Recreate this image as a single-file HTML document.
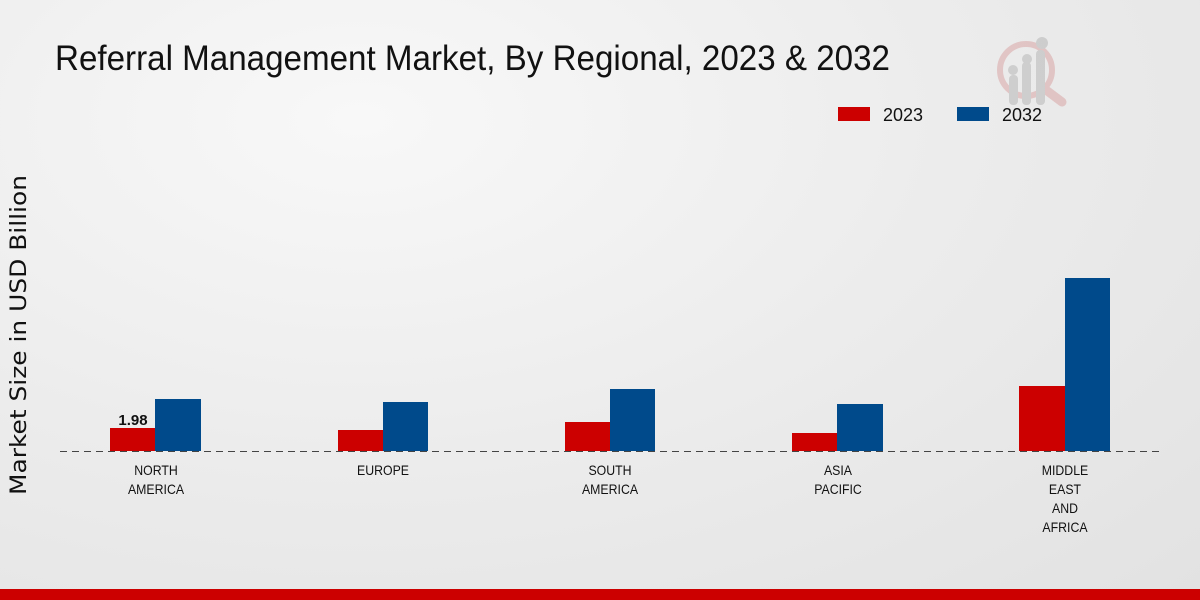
<!DOCTYPE html>
<html><head><meta charset="utf-8"><style>
body{margin:0;width:1200px;height:600px;overflow:hidden;background:radial-gradient(ellipse at 30% 20%,#f8f8f8 0%,#ececec 50%,#e2e2e2 100%);font-family:"Liberation Sans",sans-serif;}
svg{position:absolute;left:0;top:0}
</style></head><body>
<svg width="1200" height="600" xmlns="http://www.w3.org/2000/svg">
<text x="55" y="70" font-family="Liberation Sans, sans-serif" font-size="35" fill="#111" textLength="835" lengthAdjust="spacingAndGlyphs">Referral Management Market, By Regional, 2023 &amp; 2032</text>
<g opacity="0.35">
<circle cx="1026" cy="70" r="26" fill="none" stroke="#d08080" stroke-width="6"/>
<line x1="1046" y1="90" x2="1062" y2="102" stroke="#d08080" stroke-width="9" stroke-linecap="round"/>
<rect x="1009" y="75" width="9" height="30" rx="4" fill="#999"/>
<rect x="1022" y="62" width="9" height="43" rx="4" fill="#999"/>
<rect x="1036" y="50" width="9" height="55" rx="4" fill="#999"/>
<circle cx="1013" cy="70" r="5" fill="#999"/><circle cx="1027" cy="59" r="5" fill="#999"/><circle cx="1042" cy="43" r="6" fill="#999"/>
</g>
<rect x="838" y="107" width="32" height="14" fill="#cc0000"/>
<text x="883" y="121" font-size="18" fill="#111">2023</text>
<rect x="957" y="107" width="32" height="14" fill="#004a8b"/>
<text x="1002" y="121" font-size="18" fill="#111">2032</text>
<text transform="translate(26,335) rotate(-90)" text-anchor="middle" font-family="DejaVu Sans, sans-serif" font-size="22" fill="#111" textLength="320" lengthAdjust="spacingAndGlyphs">Market Size in USD Billion</text>
<g fill="#cc0000">
<rect x="110" y="428" width="45" height="23"/><rect x="338" y="430" width="45" height="21"/><rect x="565" y="422" width="45" height="29"/><rect x="792" y="433" width="45" height="18"/><rect x="1019" y="386" width="46" height="65"/>
</g>
<g fill="#004a8b">
<rect x="155" y="399" width="46" height="52"/><rect x="383" y="402" width="45" height="49"/><rect x="610" y="389" width="45" height="62"/><rect x="837" y="404" width="46" height="47"/><rect x="1065" y="278" width="45" height="173"/>
</g>
<line x1="60" y1="451.5" x2="1160" y2="451.5" stroke="#444" stroke-dasharray="7,5"/>
<text x="133" y="425" text-anchor="middle" font-size="15" font-weight="bold" fill="#111">1.98</text>
<g font-size="14" fill="#111" text-anchor="middle">
<g transform="translate(156,0) scale(0.88,1)"><text x="0" y="475">NORTH</text><text x="0" y="494">AMERICA</text></g>
<g transform="translate(383,0) scale(0.88,1)"><text x="0" y="475">EUROPE</text></g>
<g transform="translate(610,0) scale(0.88,1)"><text x="0" y="475">SOUTH</text><text x="0" y="494">AMERICA</text></g>
<g transform="translate(838,0) scale(0.88,1)"><text x="0" y="475">ASIA</text><text x="0" y="494">PACIFIC</text></g>
<g transform="translate(1065,0) scale(0.88,1)"><text x="0" y="475">MIDDLE</text><text x="0" y="494">EAST</text><text x="0" y="513">AND</text><text x="0" y="532">AFRICA</text></g>
</g>
<rect x="0" y="589" width="1200" height="11" fill="#cc0000"/>
</svg>
</body></html>
